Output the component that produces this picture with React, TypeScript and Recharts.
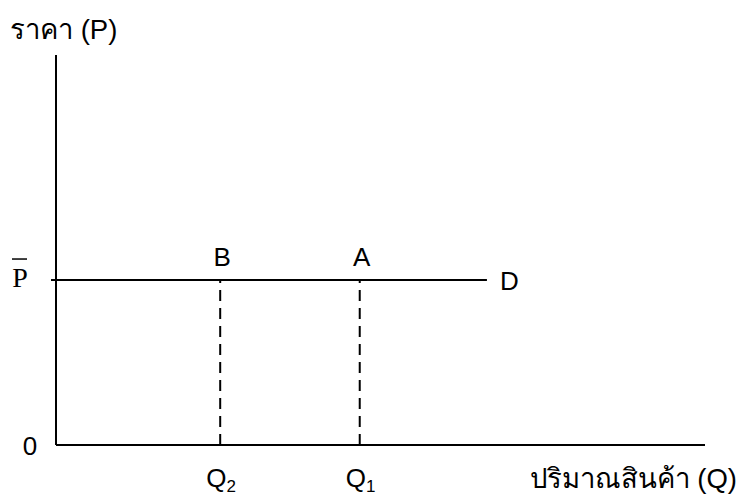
import { LineChart, Line, XAxis, YAxis, LabelList, Label } from "recharts";

// ---------------------------------------------------------------------------
// Data (diagram units: quantity 0-100 across, price 0-100 up)
// ---------------------------------------------------------------------------

const quantityTicks = [25.3, 46.8];
const quantitySubscripts = ["2", "1"];
const pointLabels = ["B", "A"];
const priceLevel = 42.3;
const demandEnd = 66.4;
const priceTicks = [0, priceLevel];
const priceTickLabels = ["0", "P"];
const yTitle = "ราคา (P)";
const xTitle = "ปริมาณสินค้า (Q)";

const demandData = [
  { q: 0, p: priceLevel, tag: "" },
  { q: demandEnd, p: priceLevel, tag: "D" },
];

const dropLines = quantityTicks.map((q, i) => [
  { q, p: 0, tag: "" },
  { q, p: priceLevel, tag: pointLabels[i] },
]);

const SANS = '"Liberation Sans", Arial, sans-serif';
const SERIF = '"Liberation Serif", "Times New Roman", serif';
const FS = 26;
const TITLE_FS = 27.5;

// ---------------------------------------------------------------------------
// Ticks / labels
// ---------------------------------------------------------------------------

function QTick({ x, y, payload }: any) {
  const i = quantityTicks.indexOf(payload.value);
  return (
    <text x={x - 14} y={y + 34} fontFamily={SANS} fontSize={FS} fill="#000">
      <tspan>Q</tspan>
      <tspan dy={5} fontSize={17}>{quantitySubscripts[i]}</tspan>
    </text>
  );
}

function PTick({ x, y, payload }: any) {
  const i = priceTicks.indexOf(payload.value);
  if (i === 0) {
    return (
      <text x={x - 18} y={y + 10} textAnchor="middle" fontFamily={SANS} fontSize={FS} fill="#000">
        {priceTickLabels[i]}
      </text>
    );
  }
  return (
    <g>
      <line x1={x + 3} x2={x + 8} y1={y} y2={y} stroke="#000" strokeWidth={2} />
      <line x1={x - 36} x2={x - 21} y1={y - 21} y2={y - 21} stroke="#000" strokeWidth={1.5} />
      <text x={x - 28} y={y + 7} textAnchor="middle" fontFamily={SERIF} fontSize={28} fill="#000">
        {priceTickLabels[i]}
      </text>
    </g>
  );
}

function PointTag({ x, y, value }: any) {
  if (!value) return null;
  if (value === "D") {
    return (
      <text x={x + 13} y={y + 10} fontFamily={SANS} fontSize={FS} fill="#000">
        {value}
      </text>
    );
  }
  return (
    <text x={x + 2} y={y - 14} textAnchor="middle" fontFamily={SANS} fontSize={FS} fill="#000">
      {value}
    </text>
  );
}

function YTitle({ viewBox }: any) {
  return (
    <text x={viewBox.x + 10} y={viewBox.y - 16} fontFamily={SANS} fontSize={TITLE_FS} fill="#000">
      {yTitle}
    </text>
  );
}

function XTitle({ viewBox }: any) {
  return (
    <text
      x={viewBox.x + viewBox.width + 32}
      y={viewBox.y + 43}
      textAnchor="end"
      fontFamily={SANS}
      fontSize={TITLE_FS}
      fill="#000"
    >
      {xTitle}
    </text>
  );
}

// ---------------------------------------------------------------------------
// Component
// ---------------------------------------------------------------------------

export default function App() {
  return (
    <div style={{ position: "absolute", left: 0, top: 0, background: "#fff" }}>
      <LineChart width={739} height={495} margin={{ top: 55, right: 34, bottom: 0, left: 0 }}>
        <XAxis
          type="number"
          dataKey="q"
          domain={[0, 100]}
          ticks={quantityTicks}
          height={50}
          axisLine={{ stroke: "#000", strokeWidth: 2 }}
          tickLine={false}
          tick={<QTick />}
          interval={0}
        >
          <Label content={<XTitle />} />
        </XAxis>
        <YAxis
          type="number"
          dataKey="p"
          domain={[0, 100]}
          ticks={priceTicks}
          width={56}
          axisLine={{ stroke: "#000", strokeWidth: 2 }}
          tickLine={false}
          tick={<PTick />}
          interval={0}
        >
          <Label content={<YTitle />} />
        </YAxis>
        <Line
          data={demandData}
          dataKey="p"
          type="linear"
          stroke="#000"
          strokeWidth={2}
          dot={false}
          isAnimationActive={false}
        >
          <LabelList dataKey="tag" content={<PointTag />} />
        </Line>
        {dropLines.map((d, i) => (
          <Line
            key={i}
            data={d}
            dataKey="p"
            type="linear"
            stroke="#000"
            strokeWidth={2}
            strokeDasharray="11 7"
            dot={false}
            isAnimationActive={false}
          >
            <LabelList dataKey="tag" content={<PointTag />} />
          </Line>
        ))}
      </LineChart>
    </div>
  );
}
